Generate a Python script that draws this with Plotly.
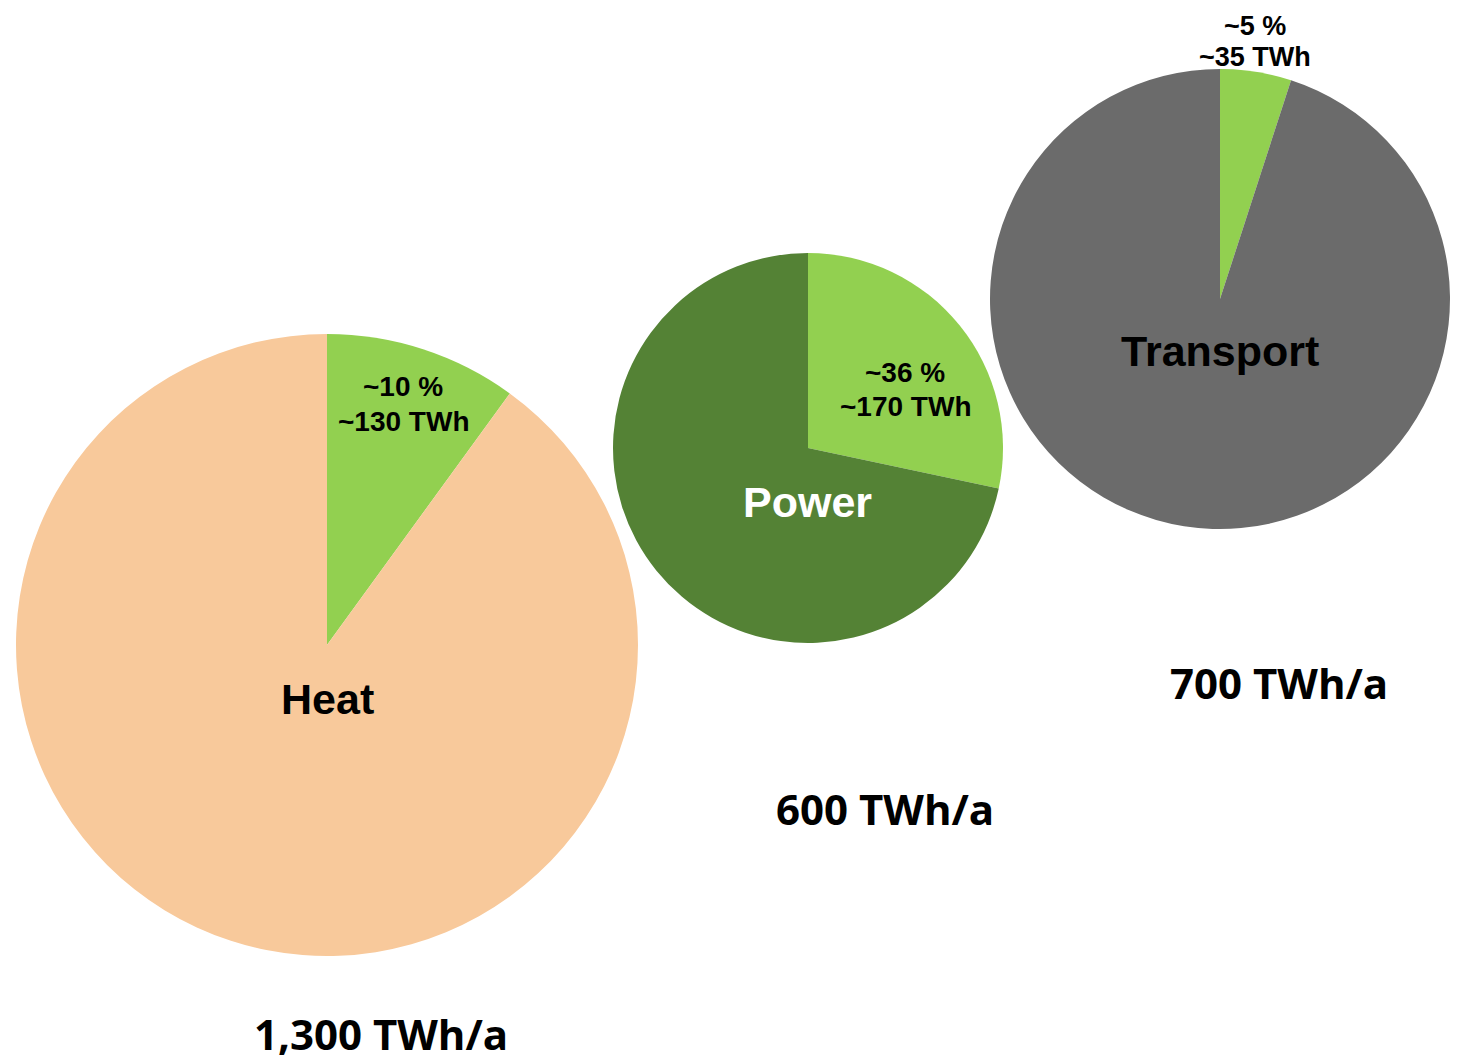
import plotly.graph_objects as go

# page offset: browser body margin of 8 px
OFF = 8
W, H = 1463 - 2 * OFF, 1062 - OFF

sectors = ["Heat", "Power", "Transport"]
totals_twh = [1300, 600, 700]
renewable_twh = [130, 170, 35]
renewable_share_label = ["~10 %", "~36 %", "~5 %"]
renewable_twh_label = ["~130 TWh", "~170 TWh", "~35 TWh"]
total_labels = ["1,300 TWh/a", "600 TWh/a", "700 TWh/a"]

green = "#92D050"
base_colors = ["#F8C99B", "#548235", "#6B6B6B"]
sector_text_colors = ["#000000", "#FFFFFF", "#000000"]

# pie centres (page px) and radii (px) -- layout only
centers = [(327, 645), (808, 448), (1220, 299)]
radii = [311, 195, 230]


def px(x, y):
    return (x - OFF) / W, 1 - (y - OFF) / H


fig = go.Figure()
for i, s in enumerate(sectors):
    cx, cy = centers[i]
    r = radii[i]
    x0, y1 = px(cx - r, cy - r)
    x1, y0 = px(cx + r, cy + r)
    fig.add_trace(go.Pie(
        labels=["Renewable", "Other"],
        values=[renewable_twh[i], totals_twh[i] - renewable_twh[i]],
        marker=dict(colors=[green, base_colors[i]], line=dict(width=0)),
        sort=False, direction="clockwise", rotation=0,
        textinfo="none", hoverinfo="label+value",
        domain=dict(x=[max(x0, 0), min(x1, 1)], y=[max(y0, 0), min(y1, 1)]),
        showlegend=False,
    ))

anns = []
# slice labels: (x, y of first line, y of second line)
slice_pos = [(403, 386, 421), (905, 372, 406), (1255, 26, 57)]
slice_sizes = [28, 28, 27]
for i in range(3):
    sx, sy1, sy2 = slice_pos[i]
    for txt, sy in ((renewable_share_label[i], sy1), (renewable_twh_label[i], sy2)):
        x, y = px(sx, sy)
        anns.append(dict(x=x, y=y, xref="paper", yref="paper", showarrow=False,
                         xanchor="center", yanchor="middle",
                         text=f"<b>{txt}</b>",
                         font=dict(family="Liberation Sans, Arial", size=slice_sizes[i], color="#000000")))
# sector labels
sector_pos = [(327, 699), (807, 502), (1220, 351)]
for i in range(3):
    x, y = px(*sector_pos[i])
    anns.append(dict(x=x, y=y, xref="paper", yref="paper", showarrow=False,
                     xanchor="center", yanchor="middle",
                     text=f"<b>{sectors[i]}</b>",
                     font=dict(family="Liberation Sans, Arial", size=43, color=sector_text_colors[i])))
# totals
total_pos = [(381, 1033), (885, 808), (1279, 682)]
for i in range(3):
    x, y = px(*total_pos[i])
    anns.append(dict(x=x, y=y, xref="paper", yref="paper", showarrow=False,
                     xanchor="center", yanchor="middle",
                     text=f"<b>{total_labels[i]}</b>",
                     font=dict(family="Open Sans", size=42, color="#000000")))

fig.update_layout(
    width=W, height=H,
    margin=dict(l=0, r=0, t=0, b=0),
    paper_bgcolor="white", plot_bgcolor="white",
    annotations=anns,
)

fig.write_html("out.html")
